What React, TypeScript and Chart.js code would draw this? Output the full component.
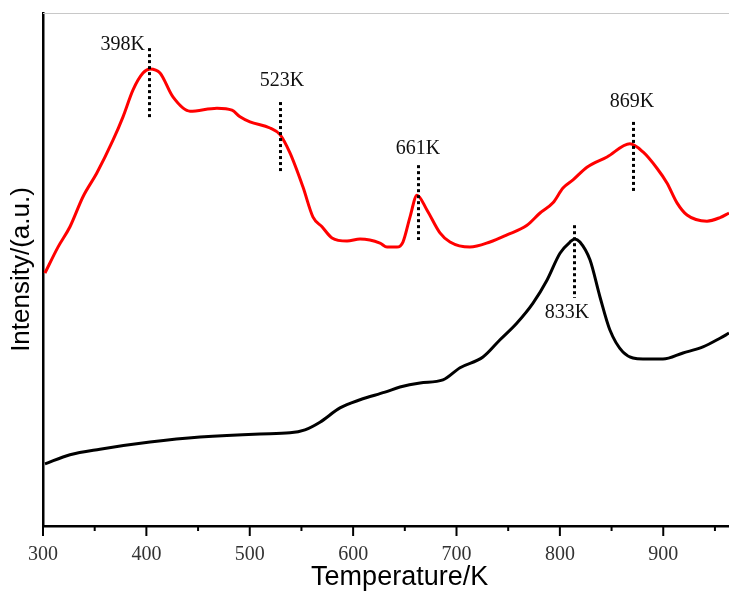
import React, { useEffect, useRef } from "react";
import { Chart, registerables } from "chart.js";

Chart.register(...registerables);

// Red curve (upper)
const redTemps = [301.9, 314.5, 326.1, 338.7, 352.2, 367.7, 377.4, 387.1, 396.7, 403.5, 413.2, 425.7, 442.2, 468.3, 482.8, 490.6, 500.2, 519.6, 529.3, 538.9, 551.5, 561.2, 569.9, 579.6, 594.1, 606.7, 626.0, 632.8, 642.4, 648.2, 655.0, 661.8, 671.4, 684.0, 693.7, 713.0, 732.4, 748.8, 768.2, 780.8, 793.3, 803.0, 812.7, 826.2, 845.6, 867.8, 880.4, 893.9, 903.6, 913.3, 923.0, 942.3, 954.9, 963.6];
const redValues = [48.9, 54.0, 58.0, 63.9, 68.6, 75.0, 79.6, 84.9, 88.2, 89.0, 88.2, 83.5, 80.7, 81.3, 80.9, 79.6, 78.6, 77.4, 76.1, 72.5, 65.8, 59.9, 58.0, 55.8, 55.2, 55.6, 54.8, 54.0, 54.0, 55.0, 59.9, 64.2, 61.3, 56.8, 55.0, 54.0, 55.0, 56.4, 58.3, 60.7, 62.7, 65.6, 67.2, 69.7, 71.7, 74.3, 72.7, 69.5, 66.6, 62.7, 60.3, 59.1, 59.8, 60.7];

// Black curve (lower)
const blackTemps = [301.9, 326.1, 355.1, 403.5, 451.9, 509.9, 538.9, 553.4, 567.9, 587.3, 606.7, 630.8, 645.3, 664.7, 686.9, 703.4, 725.6, 742.1, 758.5, 774.0, 787.5, 800.1, 809.8, 814.5, 819.4, 829.1, 838.8, 848.4, 861.0, 880.4, 899.7, 919.1, 938.4, 954.9, 963.6];
const blackValues = [11.4, 13.2, 14.3, 15.7, 16.7, 17.3, 17.5, 18.1, 19.6, 22.4, 24.0, 25.5, 26.5, 27.3, 27.9, 30.3, 32.4, 35.8, 39.1, 43.0, 47.5, 52.8, 55.0, 55.6, 55.0, 51.5, 44.2, 37.7, 33.4, 32.0, 32.0, 33.2, 34.4, 36.1, 37.1];

// Peak markers
const markerLabels = ["398K", "523K", "661K", "869K", "833K"];
const markerTemps = [402.5, 529.3, 662.4, 870.7, 813.9];
const markerTops = [93.1, 82.5, 70.1, 78.6, 58.3];
const markerBottoms = [79.0, 68.6, 55.4, 64.6, 44.0];
const labelTemps = [398.7, 531.2, 662.7, 869.7, 806.9];
const labelValues = [93.7, 86.6, 73.3, 82.5, 41.1];
const labelAligns = ["right", "center", "center", "center", "center"];

const xTickValues = [300, 400, 500, 600, 700, 800, 900];
const xMinorTicks = [350, 450, 550, 650, 750, 850, 950];
const xTitle = "Temperature/K";
const xTitleTemp = 645;
const X_MIN = 300;
const X_MAX = 963.6;
const Y_MIN = -0.8;
const Y_MAX = 100;

const decorPlugin = {
  id: "decor",
  afterDraw(chart: any) {
    const { ctx, chartArea, scales } = chart;
    const x = scales.x;
    const y = scales.y;
    ctx.save();
    // top light grey frame line
    ctx.strokeStyle = "#c8c8c8";
    ctx.lineWidth = 1;
    ctx.beginPath();
    ctx.moveTo(chartArea.left, chartArea.top + 0.5);
    ctx.lineTo(chartArea.right, chartArea.top + 0.5);
    ctx.stroke();
    // ticks
    ctx.strokeStyle = "#000";
    ctx.lineWidth = 2;
    const b = chartArea.bottom;
    xTickValues.forEach((v) => {
      const px = x.getPixelForValue(v);
      ctx.beginPath();
      ctx.moveTo(px, b);
      ctx.lineTo(px, b + 10);
      ctx.stroke();
    });
    xMinorTicks.forEach((v) => {
      const px = x.getPixelForValue(v);
      ctx.beginPath();
      ctx.moveTo(px, b);
      ctx.lineTo(px, b + 5);
      ctx.stroke();
    });
    // x axis title
    ctx.fillStyle = "#000";
    ctx.font = '27px "Liberation Sans", Arial, sans-serif';
    ctx.textAlign = "center";
    ctx.textBaseline = "middle";
    ctx.fillText(xTitle, x.getPixelForValue(xTitleTemp), b + 52);
    // markers
    ctx.lineWidth = 3;
    ctx.setLineDash([3, 3]);
    markerTemps.forEach((t, i) => {
      const px = Math.round(x.getPixelForValue(t)) + 0.5;
      ctx.beginPath();
      ctx.moveTo(px, y.getPixelForValue(markerTops[i]));
      ctx.lineTo(px, y.getPixelForValue(markerBottoms[i]));
      ctx.stroke();
    });
    ctx.setLineDash([]);
    ctx.fillStyle = "#111";
    ctx.font = '20px "Liberation Serif", "Times New Roman", serif';
    ctx.textBaseline = "middle";
    markerLabels.forEach((lab, i) => {
      ctx.textAlign = labelAligns[i] as CanvasTextAlign;
      ctx.fillText(lab, x.getPixelForValue(labelTemps[i]), y.getPixelForValue(labelValues[i]));
    });
    ctx.restore();
  },
};

export default function App() {
  const ref = useRef<HTMLCanvasElement>(null);
  useEffect(() => {
    const canvas = ref.current;
    if (!canvas) return;
    const chart = new Chart(canvas, {
      type: "line",
      data: {
        datasets: [
          {
            label: "red",
            data: redTemps.map((t, i) => ({ x: t, y: redValues[i] })),
            borderColor: "#ff0000",
            borderWidth: 3,
            pointRadius: 0,
            cubicInterpolationMode: "monotone",
            fill: false,
          },
          {
            label: "black",
            data: blackTemps.map((t, i) => ({ x: t, y: blackValues[i] })),
            borderColor: "#000000",
            borderWidth: 3,
            pointRadius: 0,
            cubicInterpolationMode: "monotone",
            fill: false,
          },
        ],
      },
      options: {
        animation: false,
        responsive: true,
        maintainAspectRatio: false,
        devicePixelRatio: 1,
        layout: { padding: { top: 13, right: 0, left: 0, bottom: 0 } },
        plugins: { legend: { display: false }, tooltip: { enabled: false } },
        scales: {
          x: {
            type: "linear",
            min: X_MIN,
            max: X_MAX,
            afterBuildTicks: (scale: any) => {
              scale.ticks = xTickValues.map((v) => ({ value: v }));
            },
            afterFit: (scale: any) => {
              scale.height = 69;
            },
            grid: { display: false, drawTicks: false },
            border: { display: true, color: "#000", width: 2.5 },
            ticks: {
              autoSkip: false,
              maxRotation: 0,
              padding: 17,
              color: "#333",
              font: { family: '"Liberation Serif", "Times New Roman", serif', size: 20 },
            },
            title: { display: false },
          },
          y: {
            type: "linear",
            min: Y_MIN,
            max: Y_MAX,
            afterFit: (scale: any) => {
              scale.width = 43;
            },
            grid: { display: false, drawTicks: false },
            border: { display: true, color: "#000", width: 2.5 },
            ticks: { display: false },
            title: {
              display: true,
              text: "Intensity/(a.u.)",
              color: "#000",
              padding: { top: 6, bottom: 0 },
              font: { family: '"Liberation Sans", Arial, sans-serif', size: 26 },
            },
          },
        },
      },
      plugins: [decorPlugin],
    });
    return () => chart.destroy();
  }, []);
  return (
    <div style={{ position: "absolute", left: 0, top: 0, width: 729, height: 595 }}>
      <canvas ref={ref} />
    </div>
  );
}
